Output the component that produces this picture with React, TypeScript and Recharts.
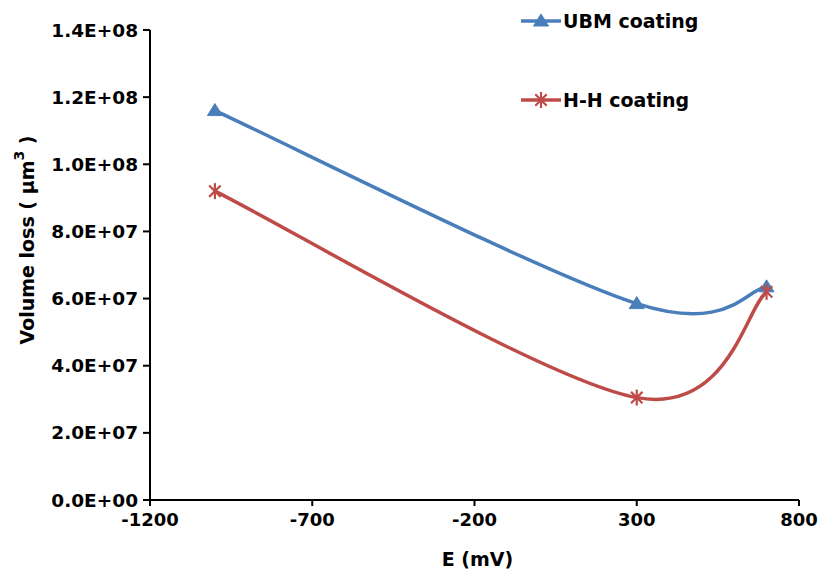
import React from 'react';
import { LineChart, Line, XAxis, YAxis, Legend } from 'recharts';

const eValues = [-1000, 300, 700];
const ubmValues = [1.16e8, 5.85e7, 6.35e7];
const hhValues = [9.2e7, 3.05e7, 6.2e7];
const xTicks = [-1200, -700, -200, 300, 800];
const yTicks = [0, 2e7, 4e7, 6e7, 8e7, 1e8, 1.2e8, 1.4e8];

const BLUE = '#4A7EBB';
const RED = '#BE4B48';
const FONT = '"DejaVu Sans", "Liberation Sans", Arial, sans-serif';

const data = eValues.map((e, i) => ({ e, ubm: ubmValues[i], hh: hhValues[i] }));

const sci = (v: number) => {
  if (v === 0) return '0.0E+00';
  const exp = Math.floor(Math.log10(v) + 1e-9);
  const mant = v / Math.pow(10, exp);
  return mant.toFixed(1) + 'E+' + String(exp).padStart(2, '0');
};

// Excel-like smoothed line (uniform Catmull-Rom as cubic Bezier)
const excelCurve = (context: any) => {
  let pts: number[][] = [];
  return {
    areaStart() {},
    areaEnd() {},
    lineStart() {
      pts = [];
    },
    point(x: number, y: number) {
      pts.push([+x, +y]);
    },
    lineEnd() {
      const n = pts.length;
      if (!n) return;
      context.moveTo(pts[0][0], pts[0][1]);
      for (let i = 0; i < n - 1; i++) {
        const p0 = pts[Math.max(i - 1, 0)];
        const p1 = pts[i];
        const p2 = pts[i + 1];
        const p3 = pts[Math.min(i + 2, n - 1)];
        context.bezierCurveTo(
          p1[0] + (p2[0] - p0[0]) / 6,
          p1[1] + (p2[1] - p0[1]) / 6,
          p2[0] - (p3[0] - p1[0]) / 6,
          p2[1] - (p3[1] - p1[1]) / 6,
          p2[0],
          p2[1]
        );
      }
    },
  };
};

const Triangle = ({ cx, cy, color }: any) => (
  <path d={`M${cx},${cy - 7} L${cx + 7.5},${cy + 5} L${cx - 7.5},${cy + 5} Z`} fill={color} stroke={color} strokeWidth={1} />
);

const Star = ({ cx, cy, color }: any) => {
  const r = 7;
  const d = r * 0.82;
  return (
    <g stroke={color} strokeWidth={2.2} strokeLinecap="butt">
      <line x1={cx - d} y1={cy - d} x2={cx + d} y2={cy + d} />
      <line x1={cx - d} y1={cy + d} x2={cx + d} y2={cy - d} />
      <line x1={cx} y1={cy - r - 1} x2={cx} y2={cy + r + 1} />
    </g>
  );
};

const series = [
  { key: 'ubm', name: 'UBM coating', color: BLUE, Marker: Triangle },
  { key: 'hh', name: 'H-H coating', color: RED, Marker: Star },
];

const LegendContent = () => (
  <div style={{ fontFamily: FONT, fontWeight: 'bold', fontSize: 19, color: '#000' }}>
    {series.map((s, i) => (
      <div key={s.key} style={{ display: 'flex', alignItems: 'center', height: 26, marginTop: i === 0 ? 0 : 53 }}>
        <svg width={40} height={26} style={{ display: 'block' }}>
          <line x1={0} y1={13} x2={40} y2={13} stroke={s.color} strokeWidth={3.5} />
          <s.Marker cx={20} cy={13} color={s.color} />
        </svg>
        <span style={{ marginLeft: 2, whiteSpace: 'nowrap' }}>{s.name}</span>
      </div>
    ))}
  </div>
);

const YTitle = (props: any) => {
  const vb = props.viewBox || {};
  const cx = 27;
  const cy = (vb.y ?? 30) + (vb.height ?? 470) / 2 - 25;
  return (
    <text
      x={cx}
      y={cy}
      transform={`rotate(-90, ${cx}, ${cy})`}
      textAnchor="middle"
      dominantBaseline="central"
      fontFamily={FONT}
      fontWeight="bold"
      fontSize={19}
      fill="#000"
    >
      Volume loss ( µm
      <tspan baselineShift="super" fontSize={14}>3</tspan>
      <tspan> )</tspan>
    </text>
  );
};

const XTitle = (props: any) => {
  const vb = props.viewBox || {};
  const cx = (vb.x ?? 150) + (vb.width ?? 649) / 2 + 3;
  const y = (vb.y ?? 500) + 66;
  return (
    <text x={cx} y={y} textAnchor="middle" fontFamily={FONT} fontWeight="bold" fontSize={19} fill="#000">
      E (mV)
    </text>
  );
};

export default function App() {
  return (
    <div style={{ position: 'absolute', left: 0, top: 0, background: '#fff' }}>
      <LineChart width={822} height={576} data={data} margin={{ top: 30, right: 23, left: 0, bottom: 0 }}>
        <XAxis
          dataKey="e"
          type="number"
          domain={[-1200, 800]}
          ticks={xTicks}
          interval={0}
          height={76}
          axisLine={{ stroke: '#000', strokeWidth: 2 }}
          tickLine={{ stroke: '#000', strokeWidth: 2 }}
          tickSize={6}
          tickMargin={7}
          tick={{ fill: '#000', fontFamily: FONT, fontWeight: 'bold', fontSize: 18 }}
          label={<XTitle />}
        />
        <YAxis
          type="number"
          domain={[0, 1.4e8]}
          ticks={yTicks}
          interval={0}
          width={150}
          tickFormatter={sci}
          axisLine={{ stroke: '#000', strokeWidth: 2 }}
          tickLine={{ stroke: '#000', strokeWidth: 2 }}
          tickSize={7}
          tickMargin={5}
          tick={{ fill: '#000', fontFamily: FONT, fontWeight: 'bold', fontSize: 18.5 }}
          label={<YTitle />}
        />
        <Legend
          layout="vertical"
          verticalAlign="middle"
          align="center"
          content={<LegendContent />}
          wrapperStyle={{ position: 'absolute', left: 521, top: 8, width: 'auto', height: 'auto' }}
        />
        {series.map((s) => (
          <Line
            key={s.key}
            dataKey={s.key}
            name={s.name}
            type={excelCurve as any}
            stroke={s.color}
            strokeWidth={3.5}
            isAnimationActive={false}
            dot={(p: any) => <s.Marker key={`${s.key}-${p.index}`} cx={p.cx} cy={p.cy} color={s.color} />}
            activeDot={false}
          />
        ))}
      </LineChart>
    </div>
  );
}
